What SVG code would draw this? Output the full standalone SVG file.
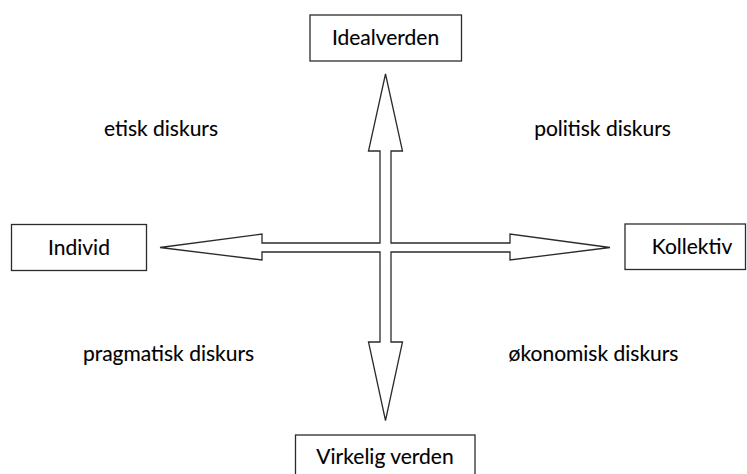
<svg xmlns="http://www.w3.org/2000/svg" width="747" height="474" viewBox="0 0 747 474">
<style>
.box{fill:#fff;stroke:#2b2b2b;stroke-width:1.3}
.lbl{font-family:Lato,"Open Sans","Liberation Sans",sans-serif;font-size:21px;fill:#000;stroke:#000;stroke-width:0.12;text-anchor:middle}
.arrow{fill:#fff;stroke:#2b2b2b;stroke-width:1.3;stroke-linejoin:miter}
</style>
<rect width="747" height="474" fill="#fff"/>
<g id="connectors">
<polygon class="arrow" points="385.5,74 402.5,151 391,151 391,243 510,243 510,234 610,247.5 510,260 510,252 391,252 391,342 402.5,342 385.5,420.5 368.5,342 380,342 380,252 262,252 262,260 160,247.5 262,234 262,243 380,243 380,151 368.5,151"/>
</g>
<g id="idealverden">
<rect class="box" x="310" y="15" width="151.5" height="46"/>
<text class="lbl" x="385.5" y="45">Idealverden</text>
</g>
<g id="individ">
<rect class="box" x="11.5" y="224.5" width="135" height="46"/>
<text class="lbl" x="79" y="254.5">Individ</text>
</g>
<g id="kollektiv">
<rect class="box" x="625" y="224" width="120.5" height="45.5"/>
<text class="lbl" x="692" y="254">Kollektiv</text>
</g>
<g id="virkelig-verden">
<rect class="box" x="295.5" y="435" width="179.5" height="50"/>
<text class="lbl" x="385" y="463.5">Virkelig verden</text>
</g>
<g id="quadrant-labels">
<text class="lbl" x="161" y="136">etisk diskurs</text>
<text class="lbl" x="602.5" y="136">politisk diskurs</text>
<text class="lbl" x="168.5" y="361">pragmatisk diskurs</text>
<text class="lbl" x="593.5" y="361">økonomisk diskurs</text>
</g>
</svg>
